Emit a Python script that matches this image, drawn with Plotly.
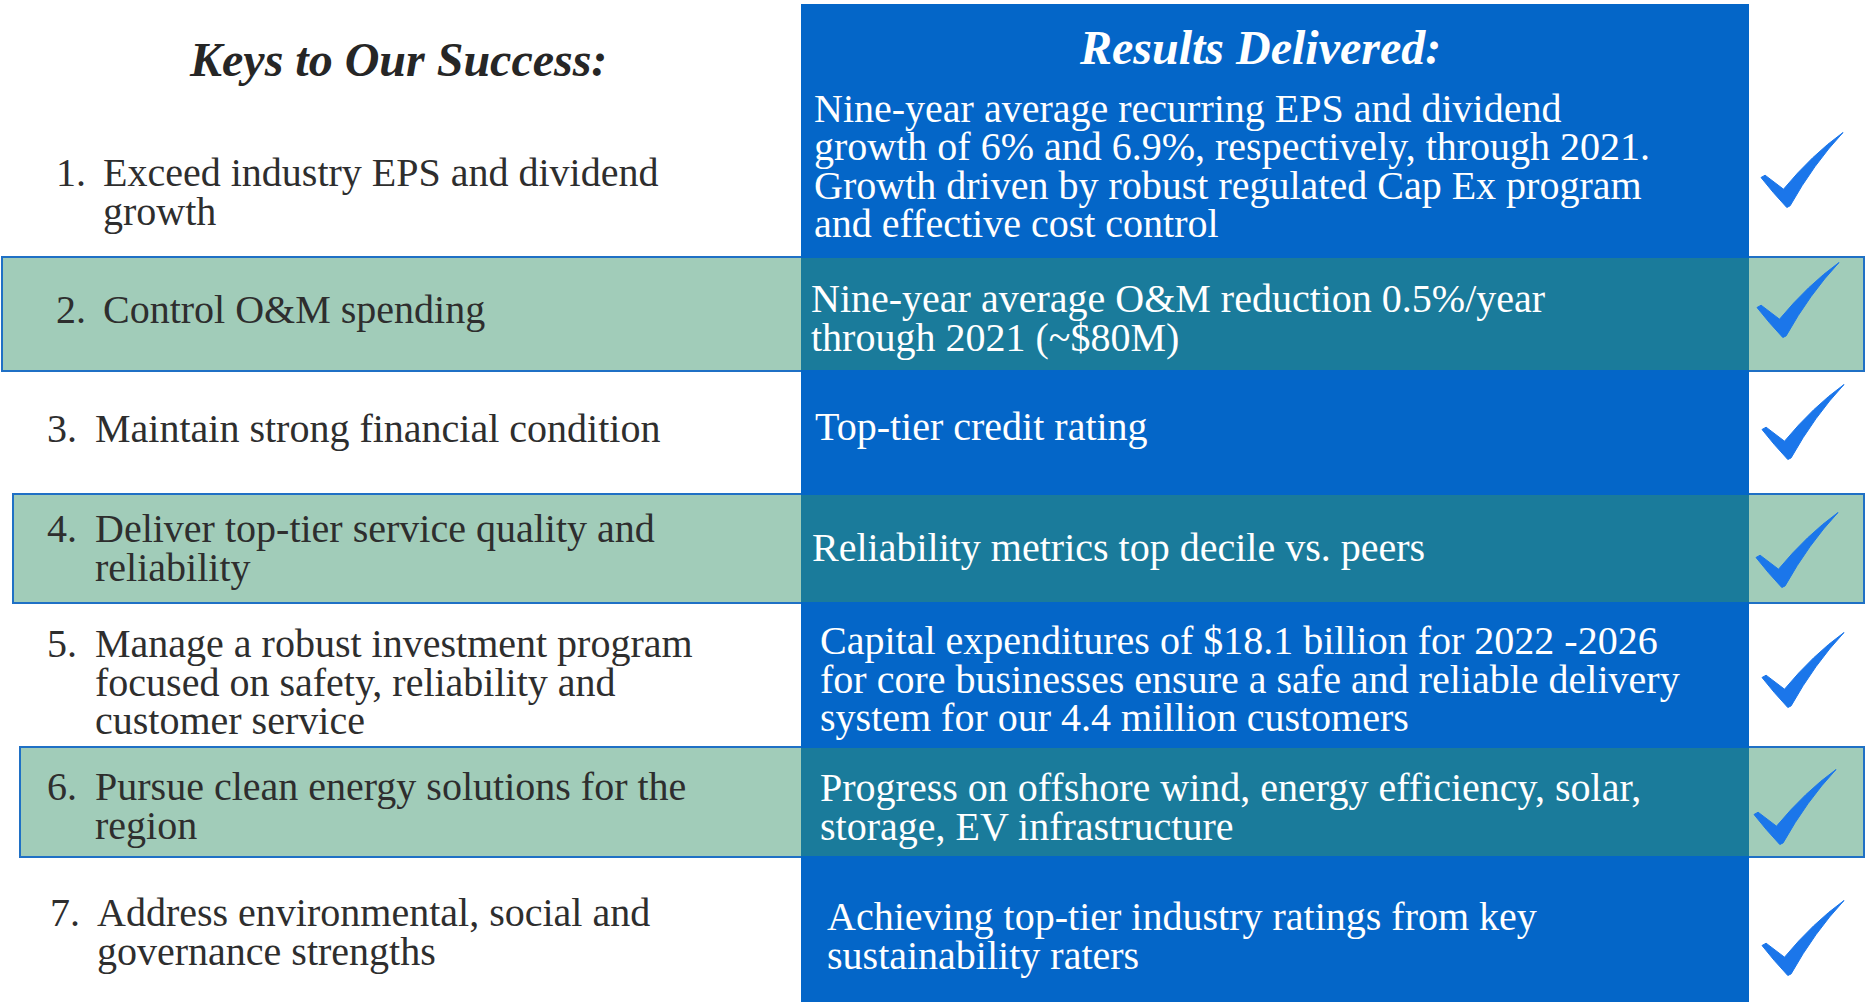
import plotly.graph_objects as go

# ---------------- data ----------------
headers = ["Keys to Our Success:", "Results Delivered:"]
numbers = ["1.", "2.", "3.", "4.", "5.", "6.", "7."]
keys = [
    ["Exceed industry EPS and dividend", "growth"],
    ["Control O&M spending"],
    ["Maintain strong financial condition"],
    ["Deliver top-tier service quality and", "reliability"],
    ["Manage a robust investment program", "focused on safety, reliability and", "customer service"],
    ["Pursue clean energy solutions for the", "region"],
    ["Address environmental, social and", "governance strengths"],
]
results = [
    ["Nine-year average recurring EPS and dividend",
     "growth of 6% and 6.9%, respectively, through 2021.",
     "Growth driven by robust regulated Cap Ex program",
     "and effective cost control"],
    ["Nine-year average O&M reduction 0.5%/year", "through 2021 (~$80M)"],
    ["Top-tier credit rating"],
    ["Reliability metrics top decile vs. peers"],
    ["Capital expenditures of $18.1 billion for 2022 -2026",
     "for core businesses ensure a safe and reliable delivery",
     "system for our 4.4 million customers"],
    ["Progress on offshore wind, energy efficiency, solar,", "storage, EV infrastructure"],
    ["Achieving top-tier industry ratings from key", "sustainability raters"],
]
highlighted = [False, True, False, True, False, True, False]
delivered = [True, True, True, True, True, True, True]

# ---------------- layout (pixels) ----------------
W, H = 1866, 1002
col_x0, col_x1 = 801, 1749
row_top = [0, 257, 371, 494, 603, 747, 857]
row_bot = [257, 371, 494, 603, 747, 857, 1002]
green_x0 = [None, 2, None, 13, None, 20, None]
left_c = [192, 309, 428, 548, 682, 806, 932]
right_c = [166, 318, 426, 547, 679, 807, 936]
num_x = [54, 54, 45, 45, 45, 45, 48]
key_x = [101, 101, 93, 93, 93, 93, 95]
res_x = [812, 809, 813, 810, 818, 818, 825]
check_c = [(1802, 170), (1798, 300), (1803, 422), (1797, 550),
           (1803, 670), (1795, 807), (1803, 938)]
LS = 38.6
FS = 40
SERIF = "Liberation Serif, Times New Roman, serif"

BLUE = "#0466C8"
TEAL = "#1A7B9B"
GREEN = "#A1CCB9"
BORDER = "#1F70C5"
CHECK = "#1B76EA"
DARK = "#2E2E2E"

fig = go.Figure()
shapes = []
annotations = []

# green highlight boxes (left + check cell)
for i, hl in enumerate(highlighted):
    if hl:
        shapes.append(dict(type="rect", xref="x", yref="y", x0=green_x0[i], x1=1864,
                           y0=row_top[i], y1=row_bot[i], fillcolor=GREEN,
                           line=dict(color=BORDER, width=2), layer="below"))
# blue results column
shapes.append(dict(type="rect", xref="x", yref="y", x0=col_x0, x1=col_x1, y0=4, y1=H,
                   fillcolor=BLUE, line=dict(width=0), layer="below"))
for i, hl in enumerate(highlighted):
    if hl:
        shapes.append(dict(type="rect", xref="x", yref="y", x0=col_x0, x1=col_x1,
                           y0=row_top[i] + 1, y1=row_bot[i] - 1, fillcolor=TEAL,
                           line=dict(width=0), layer="below"))

# check mark template (normalized, y down)
def check_path(cx, cy, w=82, h=75):
    def p(x, y):
        return f"{cx - w/2 + x*w:.1f},{cy - h/2 + y*h:.1f}"
    return ("M" + p(0, 0.6) + " L" + p(0.05, 0.569) + " L" + p(0.274, 0.756) +
            " Q" + p(0.62, 0.30) + " " + p(1.0, 0.0) +
            " Q" + p(0.64, 0.42) + " " + p(0.355, 0.978) +
            " L" + p(0.315, 1.0) + " L" + p(0.15, 0.80) + " Z")

for i, ok in enumerate(delivered):
    if ok:
        cx, cy = check_c[i]
        shapes.append(dict(type="path", xref="x", yref="y", path=check_path(cx, cy),
                           fillcolor=CHECK, line=dict(color=CHECK, width=1)))

# headers
annotations.append(dict(x=398, y=59, xref="x", yref="y", text=f"<b><i>{headers[0]}</i></b>",
                        showarrow=False, xanchor="center", yanchor="middle",
                        font=dict(family=SERIF, size=48, color="#262626")))
annotations.append(dict(x=1260, y=47, xref="x", yref="y", text=f"<b><i>{headers[1]}</i></b>",
                        showarrow=False, xanchor="center", yanchor="middle",
                        font=dict(family=SERIF, size=48, color="white")))

# body text
for i in range(len(keys)):
    n = len(keys[i])
    y0 = left_c[i] - (n - 1) * LS / 2
    annotations.append(dict(x=num_x[i], y=y0, xref="x", yref="y", text=numbers[i],
                            showarrow=False, xanchor="left", yanchor="middle",
                            font=dict(family=SERIF, size=FS, color=DARK)))
    for j, line in enumerate(keys[i]):
        annotations.append(dict(x=key_x[i], y=y0 + j * LS, xref="x", yref="y", text=line,
                                showarrow=False, xanchor="left", yanchor="middle",
                                font=dict(family=SERIF, size=FS, color=DARK)))
    m = len(results[i])
    y1 = right_c[i] - (m - 1) * LS / 2
    for j, line in enumerate(results[i]):
        annotations.append(dict(x=res_x[i], y=y1 + j * LS, xref="x", yref="y", text=line,
                                showarrow=False, xanchor="left", yanchor="middle",
                                font=dict(family=SERIF, size=FS, color="white")))

fig.update_layout(
    width=W, height=H, autosize=False,
    margin=dict(l=0, r=0, t=0, b=0),
    paper_bgcolor="white", plot_bgcolor="white",
    xaxis=dict(range=[0, W], visible=False, fixedrange=True),
    yaxis=dict(range=[H, 0], visible=False, fixedrange=True),
    shapes=shapes, annotations=annotations, showlegend=False,
)

fig.write_html("out.html", config={"displayModeBar": False},
               post_script="document.body.style.margin='0';document.body.style.overflow='hidden';")
